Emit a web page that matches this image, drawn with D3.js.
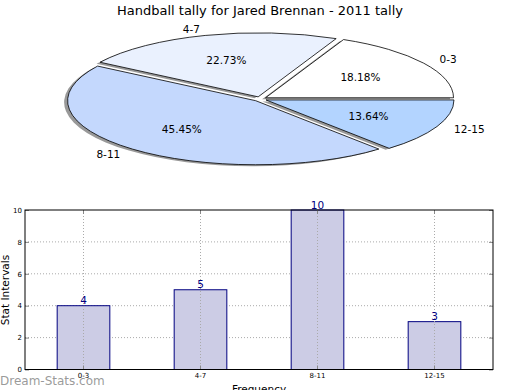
<!DOCTYPE html>
<html>
<head>
<meta charset="utf-8">
<script src="https://cdnjs.cloudflare.com/ajax/libs/d3/7.8.5/d3.min.js"></script>
<style>
  body { margin: 0; background: #fff; }
  text { font-family: "DejaVu Sans", sans-serif; }
</style>
</head>
<body>
<div id="chart"></div>
<script>
// data
var categories = ["0-3", "4-7", "8-11", "12-15"];
var tallies = [4, 5, 10, 3];
var sliceColors = ["#ffffff", "#eaf1fe", "#c4d8fd", "#b3d4ff"];
var yTicks = [0, 2, 4, 6, 8, 10];

var svgWidth = 520;
var svgHeight = 390;

var svg = d3.select("#chart")
    .append("svg")
    .attr("width", svgWidth)
    .attr("height", svgHeight);

svg.append("text")
    .attr("x", 260)
    .attr("y", 15)
    .attr("text-anchor", "middle")
    .attr("font-size", "13px")
    .text("Handball tally for Jared Brennan - 2011 tally");

// ---- pie (squashed ellipse, matplotlib style: start at 3 o'clock, counter-clockwise)
var cx = 260, cy = 99, rx = 188, ry = 64, explode = 0.035;
var total = d3.sum(tallies);

var pie = d3.pie().sort(null).value(d => d)
    .startAngle(0).endAngle(2 * Math.PI);
var slices = pie(tallies).map(function(s, i) {
    // s.startAngle/endAngle used as ccw angle from +x
    var mid = (s.startAngle + s.endAngle) / 2;
    return {
        i: i,
        t0: s.startAngle,
        t1: s.endAngle,
        mid: mid,
        ox: cx + explode * rx * Math.cos(mid),
        oy: cy - explode * ry * Math.sin(mid)
    };
});

// d3.arc angles: 0 at 12 o'clock, clockwise
var arc = d3.arc().innerRadius(0).outerRadius(1);
function slicePath(d) {
    return arc({startAngle: Math.PI / 2 - d.t1, endAngle: Math.PI / 2 - d.t0});
}

var pieG = svg.append("g");

pieG.selectAll("path.shadow")
    .data(slices)
    .enter()
    .append("path")
    .attr("class", "shadow")
    .attr("d", slicePath)
    .attr("transform", d => `translate(${d.ox - 3.5},${d.oy + 1.5}) scale(${rx},${ry})`)
    .attr("fill", "#000")
    .attr("opacity", 0.4);

pieG.selectAll("path.slice")
    .data(slices)
    .enter()
    .append("path")
    .attr("class", "slice")
    .attr("d", slicePath)
    .attr("transform", d => `translate(${d.ox},${d.oy}) scale(${rx},${ry})`)
    .attr("fill", d => sliceColors[d.i])
    .attr("stroke", "#000")
    .attr("stroke-width", 0.8)
    .attr("vector-effect", "non-scaling-stroke");

pieG.selectAll("text.lbl")
    .data(slices)
    .enter()
    .append("text")
    .attr("class", "lbl")
    .attr("x", d => d.ox + 1.1 * rx * Math.cos(d.mid))
    .attr("y", d => d.oy - 1.1 * ry * Math.sin(d.mid))
    .attr("dy", "0.35em")
    .attr("text-anchor", d => Math.cos(d.mid) >= 0 ? "start" : "end")
    .attr("font-size", "10.5px")
    .text(d => categories[d.i]);

pieG.selectAll("text.pct")
    .data(slices)
    .enter()
    .append("text")
    .attr("class", "pct")
    .attr("x", d => d.ox + 0.6 * rx * Math.cos(d.mid))
    .attr("y", d => d.oy - 0.6 * ry * Math.sin(d.mid))
    .attr("dy", "0.35em")
    .attr("text-anchor", "middle")
    .attr("font-size", "10.5px")
    .text(d => (tallies[d.i] / total * 100).toFixed(2) + "%");

// ---- bar chart
var plotLeft = 25, plotRight = 493, plotTop = 210, plotBottom = 369.5;

var xScale = d3.scaleBand()
    .domain(categories)
    .range([plotLeft, plotRight])
    .paddingInner(0.55)
    .paddingOuter(0.275);

var yScale = d3.scaleLinear()
    .domain([0, 10])
    .range([plotBottom, plotTop]);

var chartGroup = svg.append("g");

// horizontal grid
chartGroup.selectAll("line.hgrid")
    .data(yTicks.slice(1, -1))
    .enter()
    .append("line")
    .attr("class", "hgrid")
    .attr("x1", plotLeft).attr("x2", plotRight)
    .attr("y1", d => yScale(d)).attr("y2", d => yScale(d))
    .attr("stroke", "#aaa")
    .attr("stroke-width", 1)
    .attr("stroke-dasharray", "1,2");

chartGroup.selectAll("rect.bar")
    .data(tallies)
    .enter()
    .append("rect")
    .attr("class", "bar")
    .attr("x", (d, i) => xScale(categories[i]))
    .attr("y", d => yScale(d))
    .attr("width", xScale.bandwidth())
    .attr("height", d => plotBottom - yScale(d))
    .attr("fill", "#cccce5")
    .attr("stroke", "#000080")
    .attr("stroke-width", 1);

// vertical grid drawn above bars
chartGroup.selectAll("line.vgrid")
    .data(categories)
    .enter()
    .append("line")
    .attr("class", "vgrid")
    .attr("x1", d => xScale(d) + xScale.bandwidth() / 2)
    .attr("x2", d => xScale(d) + xScale.bandwidth() / 2)
    .attr("y1", plotTop).attr("y2", plotBottom)
    .attr("stroke", "#aaa")
    .attr("stroke-width", 1)
    .attr("stroke-dasharray", "1,2");

chartGroup.selectAll("text.val")
    .data(tallies)
    .enter()
    .append("text")
    .attr("class", "val")
    .attr("x", (d, i) => xScale(categories[i]) + xScale.bandwidth() / 2)
    .attr("y", d => yScale(d) - 1.5)
    .attr("text-anchor", "middle")
    .attr("fill", "#000080")
    .attr("font-size", "10.5px")
    .text(d => d);

// axes (ticks inside, matplotlib classic)
var leftAxis = d3.axisLeft(yScale).tickValues(yTicks).tickSize(-4).tickPadding(3);
var rightAxis = d3.axisRight(yScale).tickValues(yTicks).tickSize(-4).tickFormat("");
var bottomAxis = d3.axisBottom(xScale).tickSize(-4).tickPadding(4);
var topAxis = d3.axisTop(xScale).tickSize(-4).tickFormat("");

function styleAxis(g) {
    g.select(".domain").remove();
    g.selectAll(".tick line").attr("stroke", "#888");
    g.selectAll("text").attr("font-size", "7px").attr("font-family", "DejaVu Sans");
}

chartGroup.append("g").attr("transform", `translate(${plotLeft},0)`).call(leftAxis).call(styleAxis);
chartGroup.append("g").attr("transform", `translate(${plotRight},0)`).call(rightAxis).call(styleAxis);
chartGroup.append("g").attr("transform", `translate(0,${plotBottom})`).call(bottomAxis).call(styleAxis);
chartGroup.append("g").attr("transform", `translate(0,${plotTop})`).call(topAxis).call(styleAxis);

chartGroup.append("rect")
    .attr("x", plotLeft).attr("y", plotTop)
    .attr("width", plotRight - plotLeft).attr("height", plotBottom - plotTop)
    .attr("fill", "none")
    .attr("stroke", "#000")
    .attr("stroke-width", 1);

svg.append("text")
    .attr("transform", `translate(9,290) rotate(-90)`)
    .attr("text-anchor", "middle")
    .attr("font-size", "10.5px")
    .text("Stat Intervals");

svg.append("text")
    .attr("x", 259)
    .attr("y", 393)
    .attr("text-anchor", "middle")
    .attr("font-size", "10.5px")
    .text("Frequency");

svg.append("text")
    .attr("x", 0)
    .attr("y", 385)
    .attr("fill", "#888")
    .attr("fill-opacity", 0.85)
    .attr("font-size", "12px")
    .text("Dream-Stats.com");
</script>
</body>
</html>
